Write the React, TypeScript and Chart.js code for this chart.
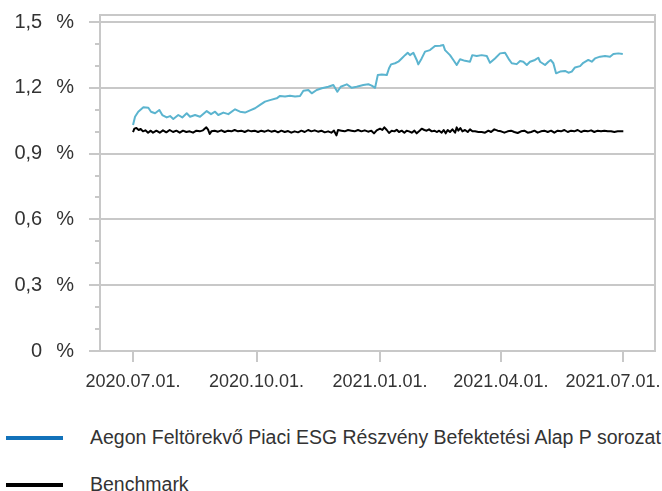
import React, { useEffect, useRef } from 'react';
import { Chart, registerables } from 'chart.js';

Chart.register(...registerables);

const FONT = "'Liberation Sans', Arial, sans-serif";
const TEXT = '#333333';
const GRID = '#c8c8c8';
const FUND_COLOR = '#5BB4CF';
const FUND_LEGEND_COLOR = '#1272BA';
const BENCH_COLOR = '#000000';

// x axis: days since 2020.07.01.
const xTickDays = [0, 92, 184, 274, 365];
const xTickLabels = ['2020.07.01.', '2020.10.01.', '2021.01.01.', '2021.04.01.', '2021.07.01.'];

const yMajorValues = [0, 0.3, 0.6, 0.9, 1.2, 1.5];
const yMajorLabels = ['0', '0,3', '0,6', '0,9', '1,2', '1,5'];
const yMinorValues = [0.1, 0.2, 0.4, 0.5, 0.7, 0.8, 1.0, 1.1, 1.3, 1.4];

const seriesNames = ['Aegon Feltörekvő Piaci ESG Részvény Befektetési Alap P sorozat', 'Benchmark'];

const fundDays = [
  0, 1.5, 3.9, 7.7, 11.4, 13.4, 16.4, 19.6, 21.8, 25.1, 27.6, 30, 33.7, 36.7, 40, 42.5, 46.2, 49.9,
  54.9, 58.1, 61.1, 63.5, 67.3, 71, 76, 79.7, 83.4, 87.2, 90.9, 94.6, 98.3, 102, 107, 109.5, 113.2,
  116.9, 120.7, 124.4, 126.9, 130.6, 133.1, 136.8, 140.6, 145.5, 149.2, 152.2, 154.7, 159.2, 162.9,
  166.6, 171.5, 175.3, 177.8, 180.3, 182.3, 185.3, 189, 190.7, 192.2, 195.2, 197.6, 200.1, 202.6,
  204.6, 206.3, 208.8, 211.3, 212.5, 215, 217.5, 221.2, 224.9, 228.7, 231.1, 232.4, 236.1, 238.6,
  241.1, 243.6, 247.3, 251, 252.7, 256, 259.7, 263.5, 265.9, 269.6, 273.4, 277.1, 280.3, 282.1,
  285.8, 288.3, 290.7, 293.3, 295.7, 299.4, 301.9, 303.2, 306.9, 309.4, 311.1, 313.1, 315.1, 318.1,
  321.8, 324.3, 326.8, 329.2, 333, 335.4, 339.1, 341.7, 344.1, 347.9, 351.6, 355.3, 357.8, 361.5, 364.8,
];
const fundValues = [
  1.030, 1.068, 1.091, 1.111, 1.109, 1.091, 1.084, 1.099, 1.076, 1.065, 1.071, 1.058, 1.076, 1.065, 1.084, 1.068, 1.076, 1.068,
  1.094, 1.080, 1.091, 1.076, 1.087, 1.080, 1.102, 1.091, 1.087, 1.097, 1.107, 1.122, 1.137, 1.144, 1.152, 1.163, 1.160,
  1.164, 1.160, 1.163, 1.187, 1.190, 1.175, 1.190, 1.198, 1.205, 1.213, 1.182, 1.205, 1.216, 1.200,
  1.205, 1.213, 1.216, 1.210, 1.200, 1.258, 1.261, 1.258, 1.289, 1.307, 1.312, 1.319, 1.334, 1.349,
  1.360, 1.349, 1.360, 1.327, 1.307, 1.334, 1.365, 1.372, 1.391, 1.392, 1.395, 1.372, 1.349, 1.327,
  1.304, 1.330, 1.323, 1.319, 1.349, 1.345, 1.349, 1.345, 1.314, 1.334, 1.357, 1.360, 1.327, 1.312,
  1.308, 1.322, 1.319, 1.304, 1.319, 1.327, 1.337, 1.319, 1.304, 1.319, 1.327, 1.312, 1.266, 1.274,
  1.277, 1.269, 1.274, 1.293, 1.299, 1.314, 1.327, 1.319, 1.334, 1.342, 1.345, 1.342, 1.354, 1.357, 1.354,
];

const benchDays = [
  0, 1, 2.5, 4.2, 5.7, 7.4, 9.2, 11.2, 13.2, 14.9, 17.4, 19.9, 22.3, 24.8, 27.3, 29.8, 32.3, 34.8,
  37.2, 39.7, 42.2, 44.7, 47.2, 49.7, 52.1, 54.6, 55.9, 57.1, 58.4, 60.8, 63.3, 65.8, 68.3, 70.8,
  73.3, 75.7, 78.2, 80.7, 83.2, 85.7, 88.2, 90.6, 93.1, 95.6, 98.1, 100.6, 103, 105.5, 108, 110.5,
  113, 115.5, 117.9, 120.4, 122.9, 125.4, 127.9, 130.4, 132.8, 135.3, 137.8, 140.3, 142.8, 145.3,
  147.7, 149.7, 151.5, 152.7, 155.2, 157.7, 160.2, 162.6, 165.1, 167.6, 170.1, 172.6, 175.1, 177.5,
  179.5, 181.5, 184, 185.7, 187.2, 189, 190.7, 192.7, 194.7, 196.4, 198.1, 200.1, 202.1, 203.8,
  205.6, 207.6, 209.6, 211.3, 213, 215, 217, 218.7, 220.5, 222.5, 224.5, 226.2, 228, 229.9, 231.4,
  232.9, 234.4, 236.1, 237.9, 239.9, 241.1, 242.3, 243.8, 245.3, 247.3, 249.3, 251, 252.8, 254.8,
  257.2, 259.7, 262.2, 264.7, 266.7, 269.1, 271.6, 274.1, 276.6, 279.1, 281.6, 284, 286.5, 289,
  291.5, 294, 296.5, 299, 301.4, 303.9, 306.4, 308.9, 311.4, 313.8, 316.3, 318.8, 321.3, 323.8,
  326.3, 328.7, 331.2, 333.7, 336.2, 338.7, 341.2, 343.6, 346.1, 348.6, 351.1, 353.6, 356.1, 358.5,
  361, 363.5, 365.2,
];
const benchValues = [
  0.9985, 1.0137, 1.0167, 1.0076, 1.0122, 1.0015, 1.0061, 0.9954, 1.0046, 0.9954, 1.0046, 0.9954, 1.0061, 0.9970, 1.0076, 0.9985, 1.0046, 0.9954,
  1.0046, 0.9985, 1.0015, 0.9954, 1.0046, 1.0015, 1.0061, 1.0197, 1.0091, 0.9894, 1.0015, 1.0046, 1.0000, 1.0061, 0.9985, 1.0046,
  1.0015, 1.0076, 1.0015, 1.0046, 0.9985, 1.0061, 1.0015, 1.0046, 0.9985, 1.0046, 1.0000, 1.0061, 1.0000, 1.0046, 0.9970, 1.0046,
  0.9985, 1.0030, 0.9954, 1.0015, 0.9970, 1.0046, 0.9985, 1.0076, 1.0015, 1.0061, 1.0000, 1.0046, 0.9970, 1.0015,
  0.9954, 1.0046, 0.9833, 1.0076, 1.0046, 1.0015, 1.0076, 1.0046, 1.0015, 1.0076, 1.0015, 1.0061, 1.0000, 1.0046,
  0.9924, 1.0060, 1.0137, 1.0076, 1.0197, 1.0076, 0.9939, 1.0046, 1.0015, 1.0091, 0.9985, 1.0046, 0.9954, 1.0046,
  1.0015, 0.9954, 1.0046, 0.9924, 1.0015, 1.0137, 1.0076, 1.0046, 1.0106, 1.0015, 1.0046, 0.9985, 1.0046, 0.9954, 1.0076,
  0.9924, 1.0076, 0.9985, 1.0106, 0.9954, 1.0197, 1.0046, 1.0167, 1.0015, 1.0076, 0.9985, 1.0106, 1.0015, 1.0015,
  0.9985, 0.9985, 0.9954, 1.0046, 0.9985, 1.0106, 1.0046, 1.0015, 0.9954, 1.0015, 1.0046, 0.9985, 0.9939, 1.0015,
  1.0046, 0.9954, 0.9985, 1.0046, 0.9954, 1.0015, 1.0046, 0.9985, 1.0046, 0.9954, 1.0046, 1.0015, 1.0076, 0.9985,
  1.0046, 1.0015, 1.0076, 0.9985, 1.0046, 1.0015, 1.0061, 0.9985, 1.0046, 1.0015, 1.0046, 1.0015, 1.0015, 0.9985,
  1.0015, 1.0015, 1.0015,
];

const chromePlugin = {
  id: 'chrome',
  beforeDatasetsDraw(chart: any) {
    const { ctx, chartArea: a, scales } = chart;
    ctx.save();
    ctx.strokeStyle = GRID;
    ctx.lineWidth = 2;
    ctx.strokeRect(a.left, a.top, a.right - a.left, a.bottom - a.top);
    ctx.beginPath();
    for (const v of yMinorValues) {
      const y = Math.round(scales.y.getPixelForValue(v));
      ctx.moveTo(a.left - 5, y);
      ctx.lineTo(a.left, y);
    }
    ctx.stroke();
    ctx.restore();
  },
};

export default function App() {
  const canvasRef = useRef<HTMLCanvasElement | null>(null);

  useEffect(() => {
    if (!canvasRef.current) return;
    const chart = new Chart(canvasRef.current, {
      type: 'line',
      data: {
        datasets: [
          {
            label: seriesNames[0],
            data: fundDays.map((d, i) => ({ x: d, y: fundValues[i] })),
            borderColor: FUND_COLOR,
            borderWidth: 2,
            pointRadius: 0,
            fill: false,
            tension: 0,
            borderJoinStyle: 'round',
          },
          {
            label: seriesNames[1],
            data: benchDays.map((d, i) => ({ x: d, y: benchValues[i] })),
            borderColor: BENCH_COLOR,
            borderWidth: 2,
            pointRadius: 0,
            fill: false,
            tension: 0,
            borderJoinStyle: 'round',
          },
        ],
      },
      options: {
        responsive: false,
        animation: false,
        layout: { padding: { top: 15, right: 7, left: 0, bottom: 0 } },
        plugins: { legend: { display: false }, tooltip: { enabled: false } },
        scales: {
          x: {
            type: 'linear',
            min: -24.6,
            max: 388.8,
            afterBuildTicks: (s: any) => {
              s.ticks = xTickDays.map((v) => ({ value: v }));
            },
            afterFit: (s: any) => {
              s.height = 49;
              s.paddingLeft = 0;
              s.paddingRight = 0;
            },
            grid: { drawOnChartArea: false, drawTicks: true, tickLength: 11, color: GRID, lineWidth: 2 },
            border: { display: false },
            ticks: {
              autoSkip: false,
              maxRotation: 0,
              minRotation: 0,
              padding: 9,
              color: TEXT,
              font: { family: FONT, size: 18 },
              callback: (_v: any, i: number) =>
                i === xTickLabels.length - 1 ? xTickLabels[i] + '    ' : xTickLabels[i],
            },
          },
          y: {
            min: 0,
            max: 1.532,
            afterBuildTicks: (s: any) => {
              s.ticks = yMajorValues.map((v) => ({ value: v }));
            },
            afterFit: (s: any) => {
              s.width = 100;
              s.paddingTop = 0;
              s.paddingBottom = 0;
            },
            grid: { color: GRID, lineWidth: 2, tickLength: 11, drawTicks: true },
            border: { display: false },
            ticks: {
              autoSkip: false,
              padding: 15,
              color: TEXT,
              font: { family: FONT, size: 20 },
              callback: (_v: any, i: number) => yMajorLabels[i] + '\u2002\u2009%',
            },
          },
        },
      },
      plugins: [chromePlugin],
    } as any);
    return () => chart.destroy();
  }, []);

  const textStyle: React.CSSProperties = {
    position: 'absolute',
    left: 90,
    fontFamily: FONT,
    fontSize: 19.5,
    lineHeight: '22px',
    color: TEXT,
    whiteSpace: 'nowrap',
  };

  return (
    <div style={{ position: 'fixed', left: 0, top: 0, width: 662, height: 491, overflow: 'hidden', background: '#fff' }}>
      <canvas ref={canvasRef} width={662} height={400} style={{ position: 'absolute', left: 0, top: 0 }} />
      <div style={{ position: 'absolute', left: 6, top: 436, width: 57, height: 4, background: FUND_LEGEND_COLOR }} />
      <div style={{ ...textStyle, top: 426 }}>{seriesNames[0]}</div>
      <div style={{ position: 'absolute', left: 6, top: 483, width: 57, height: 4, background: BENCH_COLOR }} />
      <div style={{ ...textStyle, top: 473 }}>{seriesNames[1]}</div>
    </div>
  );
}
